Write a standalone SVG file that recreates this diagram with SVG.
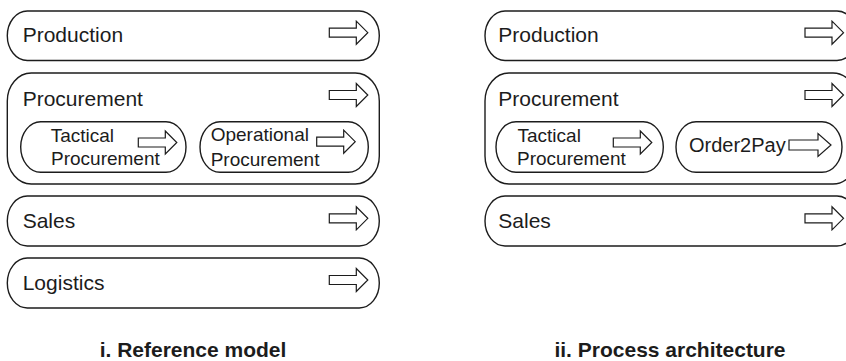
<svg xmlns="http://www.w3.org/2000/svg" xmlns:xlink="http://www.w3.org/1999/xlink" width="846" height="361" viewBox="0 0 846 361">
<style>
.box{fill:#fff;stroke:#1c1c1c;stroke-width:1.4}
.arr{fill:#fff;stroke:#1c1c1c;stroke-width:1.2;stroke-linejoin:miter}
.lbl{font-family:"Liberation Sans",Arial,sans-serif;font-size:21px;fill:#1c1c1c}
.sub{font-family:"Liberation Sans",Arial,sans-serif;font-size:19px;fill:#1c1c1c}
.ttl{font-family:"Liberation Sans",Arial,sans-serif;font-size:21px;font-weight:bold;fill:#1c1c1c;text-anchor:middle}
</style>
<defs>
<path id="arrow" d="M0,-4.5 H27 V-11.5 L38.5,0 L27,11.5 V4.5 H0 Z"/>
</defs>
<rect width="846" height="361" fill="#fff"/>

<g id="left-production">
<rect class="box" x="7.3" y="11" width="372" height="49.5" rx="20" ry="25"/>
<text class="lbl" x="22.7" y="42.3">Production</text>
<use href="#arrow" class="arr" transform="translate(329.3,32.7)"/>
</g>
<g id="left-procurement">
<rect class="box" x="7.3" y="73" width="372" height="111" rx="24" ry="28"/>
<text class="lbl" x="22.7" y="106">Procurement</text>
<use href="#arrow" class="arr" transform="translate(329.3,95)"/>
</g>
<g id="left-tactical">
<rect class="box" x="20.7" y="121.7" width="165.3" height="50.6" rx="20" ry="25.3"/>
<text class="sub" x="50.7" y="142">Tactical</text>
<use href="#arrow" class="arr" transform="translate(138.3,142.5)"/>
<text class="sub" x="51" y="165">Procurement</text>
</g>
<g id="left-operational">
<rect class="box" x="200" y="121.7" width="168.3" height="50.6" rx="20" ry="25.3"/>
<text class="sub" x="210.7" y="141">Operational</text>
<use href="#arrow" class="arr" transform="translate(316.7,141.7)"/>
<text class="sub" x="210.7" y="166">Procurement</text>
</g>
<g id="left-sales">
<rect class="box" x="7.3" y="196" width="372" height="50" rx="20" ry="25"/>
<text class="lbl" x="22.7" y="227.7">Sales</text>
<use href="#arrow" class="arr" transform="translate(329.3,218.3)"/>
</g>
<g id="left-logistics">
<rect class="box" x="7.3" y="258" width="372" height="50" rx="20" ry="25"/>
<text class="lbl" x="22.7" y="290">Logistics</text>
<use href="#arrow" class="arr" transform="translate(329.3,280)"/>
</g>
<text class="ttl" x="193" y="357">i. Reference model</text>

<g id="right-production">
<rect class="box" x="485" y="11" width="372" height="49.5" rx="20" ry="25"/>
<text class="lbl" x="498.3" y="42.3">Production</text>
<use href="#arrow" class="arr" transform="translate(805,32.7)"/>
</g>
<g id="right-procurement">
<rect class="box" x="485" y="73" width="372" height="111" rx="24" ry="28"/>
<text class="lbl" x="498.3" y="106">Procurement</text>
<use href="#arrow" class="arr" transform="translate(805,95)"/>
</g>
<g id="right-tactical">
<rect class="box" x="496" y="121.7" width="167.3" height="50.6" rx="20" ry="25.3"/>
<text class="sub" x="517.5" y="142">Tactical</text>
<use href="#arrow" class="arr" transform="translate(613.3,142.5)"/>
<text class="sub" x="517" y="165">Procurement</text>
</g>
<g id="right-order2pay">
<rect class="box" x="676" y="121.7" width="166" height="50.6" rx="20" ry="25.3"/>
<text class="lbl" x="689" y="152" style="font-size:20px">Order2Pay</text>
<path class="arr" d="M789,140 H818 V133.5 L831,145 L818,156.5 V150 H789 Z"/>
</g>
<g id="right-sales">
<rect class="box" x="485" y="196" width="372" height="50" rx="20" ry="25"/>
<text class="lbl" x="498.3" y="227.7">Sales</text>
<use href="#arrow" class="arr" transform="translate(805,218.3)"/>
</g>
<text class="ttl" x="670" y="357">ii. Process architecture</text>
</svg>
